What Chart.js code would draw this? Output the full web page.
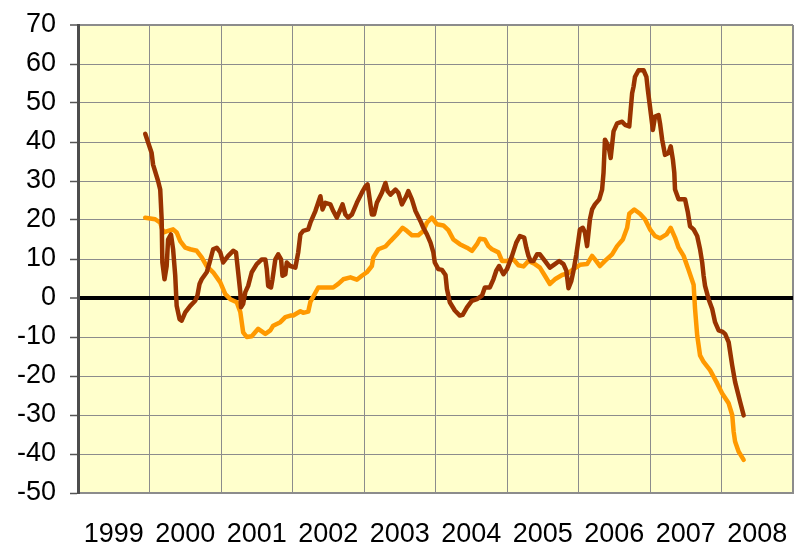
<!DOCTYPE html>
<html>
<head>
<meta charset="utf-8">
<script src="https://cdn.jsdelivr.net/npm/chart.js@4"></script>
<style>
  html, body { margin: 0; padding: 0; background: #fff; }
  canvas { display: block; }
</style>
</head>
<body>
<canvas id="chart" width="794" height="547"></canvas>
<script>
// year labels shown under the axis
const yearLabels = ['1999', '2000', '2001', '2002', '2003', '2004', '2005', '2006', '2007', '2008'];

// dark brown series: decimal year, value
const brownYears = [
  1999.94, 2000.03, 2000.05, 2000.12, 2000.15, 2000.17, 2000.18, 2000.21, 2000.24, 2000.26,
  2000.30, 2000.33, 2000.36, 2000.38, 2000.42, 2000.45, 2000.50, 2000.57, 2000.64, 2000.67,
  2000.70, 2000.73, 2000.80, 2000.84, 2000.89, 2000.94, 2000.99, 2001.03, 2001.10, 2001.17,
  2001.21, 2001.24, 2001.27, 2001.28, 2001.31, 2001.34, 2001.38, 2001.43, 2001.50, 2001.57,
  2001.62, 2001.64, 2001.66, 2001.70, 2001.72, 2001.76, 2001.80, 2001.84, 2001.86, 2001.90,
  2001.92, 2001.97, 2002.04, 2002.08, 2002.11, 2002.15, 2002.22, 2002.25, 2002.32, 2002.39,
  2002.42, 2002.46, 2002.53, 2002.57, 2002.62, 2002.67, 2002.70, 2002.74, 2002.78, 2002.83,
  2002.90, 2002.97, 2003.02, 2003.05, 2003.08, 2003.11, 2003.14, 2003.18, 2003.25, 2003.30,
  2003.33, 2003.37, 2003.44, 2003.48, 2003.53, 2003.58, 2003.62, 2003.67, 2003.72, 2003.79,
  2003.83, 2003.88, 2003.93, 2003.97, 2003.99, 2004.04, 2004.09, 2004.14, 2004.16, 2004.20,
  2004.27, 2004.34, 2004.38, 2004.44, 2004.51, 2004.58, 2004.65, 2004.69, 2004.76, 2004.81,
  2004.85, 2004.89, 2004.95, 2005.00, 2005.07, 2005.13, 2005.18, 2005.24, 2005.27, 2005.30,
  2005.33, 2005.37, 2005.42, 2005.46, 2005.53, 2005.60, 2005.67, 2005.73, 2005.79, 2005.83,
  2005.86, 2005.90, 2005.93, 2005.97, 2006.00, 2006.02, 2006.06, 2006.09, 2006.12, 2006.16,
  2006.19, 2006.23, 2006.29, 2006.33, 2006.35, 2006.37, 2006.42, 2006.45, 2006.49, 2006.54,
  2006.61, 2006.65, 2006.71, 2006.75, 2006.77, 2006.79, 2006.84, 2006.91, 2006.95, 2006.97,
  2007.00, 2007.04, 2007.07, 2007.12, 2007.14, 2007.17, 2007.21, 2007.26, 2007.29, 2007.32,
  2007.34, 2007.35, 2007.40, 2007.45, 2007.49, 2007.53, 2007.56, 2007.61, 2007.66, 2007.70,
  2007.73, 2007.75, 2007.77, 2007.82, 2007.87, 2007.91, 2007.96, 2008.01, 2008.05, 2008.10,
  2008.15, 2008.19, 2008.26, 2008.31
];
const brownValues = [
  42.1, 37.2, 34.2, 30.0, 27.8, 20.2, 9.1, 4.8, 8.2, 15.0,
  16.3, 12.5, 5.7, -2.0, -5.4, -5.8, -3.7, -2.0, -0.7, 0.6,
  3.6, 4.8, 6.6, 9.1, 12.5, 12.9, 11.7, 9.1, 10.8, 12.1,
  11.7, 6.6, 1.5, -2.4, -1.5, 1.5, 3.1, 6.6, 8.7, 9.9,
  9.9, 7.4, 3.1, 2.7, 4.8, 9.9, 11.2, 9.9, 5.7, 6.1,
  9.1, 8.2, 7.8, 11.7, 16.3, 17.2, 17.6, 19.3, 22.3, 26.1,
  22.7, 24.4, 24.0, 22.3, 20.6, 22.7, 24.0, 21.4, 20.6, 21.4,
  24.4, 27.0, 28.6, 29.1, 25.3, 21.4, 21.4, 24.4, 27.0, 29.5,
  27.4, 26.5, 27.8, 27.0, 24.0, 25.7, 27.4, 25.3, 22.3, 19.7,
  18.0, 16.3, 14.2, 11.7, 9.1, 7.4, 7.2, 5.9, 2.3, -1.1,
  -3.2, -4.5, -4.3, -2.4, -0.7, -0.3, 0.6, 2.7, 2.7, 4.8,
  7.0, 8.2, 6.1, 7.4, 10.8, 14.2, 15.9, 15.5, 12.9, 10.8,
  9.5, 9.5, 11.2, 11.2, 9.5, 7.8, 8.7, 9.5, 8.7, 7.0,
  2.5, 4.4, 7.0, 11.2, 15.0, 17.6, 18.0, 16.8, 13.3, 20.2,
  22.7, 24.0, 25.3, 27.8, 32.1, 40.6, 38.9, 35.9, 42.7, 44.8,
  45.2, 44.4, 44.0, 52.5, 54.2, 56.7, 58.4, 58.4, 56.7, 53.3,
  49.0, 43.1, 46.5, 46.9, 44.8, 40.6, 36.7, 37.2, 38.9, 35.5,
  32.1, 27.8, 25.3, 25.3, 25.3, 21.9, 18.4, 17.6, 15.9, 12.5,
  9.1, 5.7, 3.1, -0.3, -2.8, -6.2, -8.3, -8.6, -9.2, -11.3,
  -17.3, -21.5, -26.6, -30.1
];

// orange series: decimal year, value
const orangeYears = [
  1999.94, 2000.08, 2000.15, 2000.19, 2000.26, 2000.33, 2000.38, 2000.43, 2000.50, 2000.57,
  2000.66, 2000.73, 2000.80, 2000.89, 2000.99, 2001.06, 2001.13, 2001.22, 2001.27, 2001.31,
  2001.36, 2001.43, 2001.52, 2001.62, 2001.69, 2001.73, 2001.83, 2001.90, 2001.97, 2002.01,
  2002.11, 2002.15, 2002.22, 2002.25, 2002.36, 2002.57, 2002.64, 2002.71, 2002.81, 2002.90,
  2002.97, 2003.04, 2003.11, 2003.13, 2003.20, 2003.30, 2003.37, 2003.46, 2003.54, 2003.60,
  2003.67, 2003.76, 2003.83, 2003.88, 2003.95, 2004.02, 2004.11, 2004.18, 2004.25, 2004.34,
  2004.44, 2004.51, 2004.58, 2004.62, 2004.69, 2004.74, 2004.79, 2004.88, 2004.93, 2005.00,
  2005.09, 2005.16, 2005.23, 2005.30, 2005.39, 2005.46, 2005.53, 2005.60, 2005.67, 2005.77,
  2005.86, 2005.93, 2006.02, 2006.12, 2006.19, 2006.23, 2006.30, 2006.37, 2006.47, 2006.54,
  2006.62, 2006.68, 2006.71, 2006.78, 2006.86, 2006.93, 2007.00, 2007.07, 2007.14, 2007.23,
  2007.29, 2007.35, 2007.40, 2007.47, 2007.54, 2007.61, 2007.63, 2007.66, 2007.70, 2007.75,
  2007.84, 2007.94, 2008.01, 2008.10, 2008.15, 2008.17, 2008.19, 2008.24, 2008.31
];
const orangeValues = [
  20.6, 20.2, 19.3, 16.8, 17.2, 17.6, 16.8, 14.6, 12.9, 12.5,
  12.1, 10.4, 8.2, 6.6, 4.0, 1.0, -0.3, -1.1, -3.6, -8.8,
  -10.0, -9.8, -7.9, -9.2, -8.3, -7.1, -6.2, -4.9, -4.5, -4.5,
  -3.4, -3.8, -3.5, -1.0, 2.7, 2.7, 3.6, 4.8, 5.3, 4.7,
  5.7, 6.6, 8.2, 10.4, 12.5, 13.2, 14.6, 16.3, 18.0, 17.2,
  16.1, 16.1, 17.2, 19.3, 20.6, 18.9, 18.6, 17.4, 15.0, 13.8,
  12.9, 12.1, 13.8, 15.2, 15.0, 13.3, 12.5, 11.7, 9.5, 9.5,
  9.9, 8.4, 8.1, 9.5, 8.7, 7.8, 5.7, 3.6, 4.8, 5.9,
  6.4, 7.4, 8.5, 8.7, 10.8, 9.9, 8.2, 9.5, 11.2, 13.3,
  15.0, 18.0, 21.6, 22.7, 21.6, 20.2, 17.6, 15.9, 15.3, 16.3,
  18.0, 15.5, 12.9, 10.8, 7.2, 3.4, -2.8, -9.6, -14.7, -16.4,
  -18.5, -21.9, -24.5, -27.0, -30.0, -34.3, -36.8, -39.4, -41.5
];

const yMin = -50, yMax = 70, yStep = 10;
const xMin = 1999, xMax = 2009;

const toPoints = (xs, ys) => xs.map((x, i) => ({ x: x, y: ys[i] }));

const plotBackground = {
  id: 'plotBackground',
  beforeDraw(chart) {
    const { ctx, chartArea: a } = chart;
    ctx.save();
    ctx.fillStyle = '#FFFFCC';
    ctx.fillRect(a.left, a.top, a.right - a.left, a.bottom - a.top);
    ctx.restore();
  }
};

const font = { family: "'Liberation Sans', Arial, sans-serif", size: 27 };

new Chart(document.getElementById('chart').getContext('2d'), {
  type: 'line',
  data: {
    datasets: [
      {
        label: 'brown',
        data: toPoints(brownYears, brownValues),
        borderColor: '#993300',
        borderWidth: 4.5,
        pointRadius: 0,
        tension: 0,
        borderJoinStyle: 'round',
        borderCapStyle: 'round'
      },
      {
        label: 'orange',
        data: toPoints(orangeYears, orangeValues),
        borderColor: '#FF9900',
        borderWidth: 4.5,
        pointRadius: 0,
        tension: 0,
        borderJoinStyle: 'round',
        borderCapStyle: 'round'
      }
    ]
  },
  options: {
    responsive: false,
    animation: false,
    layout: { padding: { top: 25, right: 1, bottom: 0, left: 0 } },
    plugins: {
      legend: { display: false },
      tooltip: { enabled: false }
    },
    scales: {
      x: {
        type: 'linear',
        min: xMin,
        max: xMax,
        afterFit(scale) { scale.height = 54; },
        ticks: {
          stepSize: 1,
          autoSkip: false,
          maxRotation: 0,
          labelOffset: 35.7,
          padding: 0,
          color: '#000',
          font: font,
          callback: (v) => yearLabels[v - xMin] || ''
        },
        grid: {
          drawTicks: true,
          tickLength: 25,
          tickColor: 'rgba(0,0,0,0)',
          color: '#8c8c8c',
          lineWidth: (c) => (c.tick && c.tick.value === xMax ? 3 : 1)
        },
        border: { display: true, color: '#8c8c8c', width: 2 }
      },
      y: {
        min: yMin,
        max: yMax,
        afterFit(scale) {
          scale.width = 78;
          scale.paddingTop = 16;
          scale.paddingBottom = 16;
        },
        ticks: {
          stepSize: yStep,
          padding: 14,
          color: '#000',
          font: font
        },
        grid: {
          color: (c) => (c.tick && c.tick.value === 0 ? '#000' : '#8c8c8c'),
          lineWidth: (c) => {
            if (!c.tick) return 1;
            if (c.tick.value === 0) return 4;
            if (c.tick.value === yMax) return 2;
            return 1;
          },
          tickLength: 8,
          tickColor: '#555',
          tickWidth: 1.5
        },
        border: { display: true, color: '#4d4d4d', width: 3 }
      }
    }
  },
  plugins: [plotBackground]
});
</script>
</body>
</html>
